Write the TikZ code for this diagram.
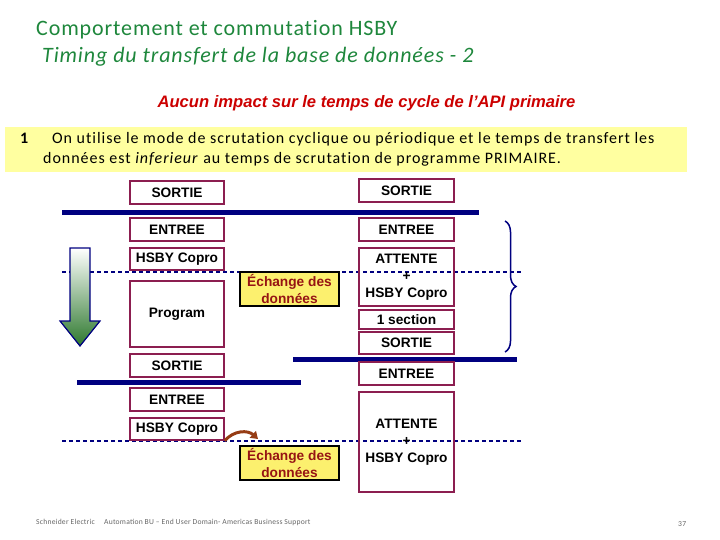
\documentclass[tikz,border=0pt]{standalone}
\usepackage{fontspec}
\setmainfont{Carlito}
\newfontfamily\arialfont{Liberation Sans}
\newfontfamily\titlefont[LetterSpace=4,Ligatures=NoCommon]{Carlito}
\newfontfamily\notefont[LetterSpace=6,Ligatures=NoCommon]{Carlito}
\newfontfamily\footfont[LetterSpace=3]{Carlito}
\usetikzlibrary{decorations.pathreplacing,arrows.meta}

\definecolor{titlegreen}{RGB}{30,135,60}
\definecolor{impactred}{RGB}{204,0,0}
\definecolor{notebg}{RGB}{255,255,160}
\definecolor{boxline}{RGB}{140,30,80}
\definecolor{busblue}{RGB}{0,0,128}
\definecolor{xchgfill}{RGB}{252,240,110}
\definecolor{xchgtext}{RGB}{150,20,20}
\definecolor{curvebrown}{RGB}{150,60,20}
\definecolor{arrowgreen}{RGB}{45,120,45}

\begin{document}
\begin{tikzpicture}[x=1pt,y=-1pt]
    \tikzstyle{box}=[draw=boxline, line width=1.5pt, minimum width=94pt, inner sep=0pt, align=center, font=\arialfont\bfseries\fontsize{13.7}{17}\selectfont]
    \tikzstyle{xchg}=[box, draw=black, fill=xchgfill, text=xchgtext, minimum width=99pt, minimum height=34pt]
    \tikzstyle{bus}=[busblue, line width=5pt]
    \tikzstyle{sync}=[busblue, line width=1.5pt, dash pattern=on 4pt off 3pt]
    \tikzstyle{foot}=[anchor=base west, inner sep=0pt, text=black!60, font=\footfont\fontsize{7.6}{8}\selectfont]

    \useasboundingbox (0,0) rectangle (720,540);

% Header
    \node[anchor=base west, inner sep=0pt, text=titlegreen, font=\titlefont\fontsize{22}{26}\selectfont] (title) at (36,36) {Comportement et commutation HSBY};
    \node[anchor=base west, inner sep=0pt, text=titlegreen, font=\titlefont\itshape\fontsize{22}{26}\selectfont] (subtitle) at (42,63) {Timing du transfert de la base de données - 2};
    \node[anchor=base, inner sep=0pt, text=impactred, font=\arialfont\bfseries\itshape\fontsize{16.6}{20}\selectfont] (impact) at (366.5,108) {Aucun impact sur le temps de cycle de l’API primaire};

    % Note
    \fill[notebg] (5,127) rectangle (687,172);
    \node[anchor=base west, inner sep=0pt, font=\notefont\bfseries\fontsize{16}{20}\selectfont] (num) at (20,144) {1};
    \node[anchor=base west, inner sep=0pt, font=\notefont\fontsize{16}{20}\selectfont] (note1) at (52,144) {On utilise le mode de scrutation cyclique ou périodique et le temps de transfert les};
    \node[anchor=base west, inner sep=0pt, font=\notefont\fontsize{16}{20}\selectfont] (note2) at (43,164) {données est \textit{inferieur} au temps de scrutation de programme PRIMAIRE.};

% Sync lines
    \foreach \y in {272,441}
        \draw[sync] (62,\y) -- (522,\y);

% Bus lines
    \draw[bus] (62,213) -- (479,213);
    \draw[bus] (293,359) -- (517,359);
    \draw[bus] (77,382) -- (301,382);

% Nodes
    % Primary column
    \foreach \name/\y/\h/\txt in {lsort1/192.5/23/SORTIE, lentr1/229.5/23/ENTREE, lcopro1/259/22/HSBY Copro,
                                  lprog/314/66/Program, lsort2/365.5/23/SORTIE, lentr2/399.5/23/ENTREE, lcopro2/429/22/HSBY Copro}
        \node[box, minimum height=\h pt] (\name) at (177,\y) {\txt};

    % Standby column
    \foreach \name/\y/\h/\txt in {rsort1/190.5/23/SORTIE, rentr1/229.5/23/ENTREE, ratt1/277/58/{ATTENTE\\+\\HSBY Copro},
                                  rsect/319.5/19/1 section, rsort2/343/22/SORTIE, rentr2/373.5/23/ENTREE, ratt2/442/100/{ATTENTE\\+\\HSBY Copro}}
        \node[box, minimum width=95pt, minimum height=\h pt] (\name) at (406.5,\y) {\txt};

    % Data exchange
    \node[xchg] (xchg1) at (289.5,289) {Échange des\\données};
    \node[xchg] (xchg2) at (289.5,463) {Échange des\\données};

% Scan arrow
    \draw[busblue, line width=1.2pt, top color=white, bottom color=arrowgreen] (70,248) -- (90,248) -- (90,321) -- (100,321) -- (80,346) -- (60,321) -- (70,321) -- cycle;

% Paths
    \coordinate (xchgend) at (258,439);
    \draw[curvebrown, line width=3pt, -{Triangle[length=7pt,width=9pt]}] (lcopro2.south east) .. controls (234,430) and (248,430) .. (xchgend);

    \coordinate (bracetop) at (505,221);
    \coordinate (bracebot) at (505,352);
    \draw[busblue, line width=1.5pt, decorate, decoration={brace, amplitude=11pt}] (bracetop) -- (bracebot);

% Footer
    \node[foot] (foot1) at (36,524) {Schneider Electric};
    \node[foot] (foot2) at (104,524) {Automation BU – End User Domain- Americas Business Support};
    \node[foot] (page) at (678,526) {37};

\end{tikzpicture}
\end{document}
